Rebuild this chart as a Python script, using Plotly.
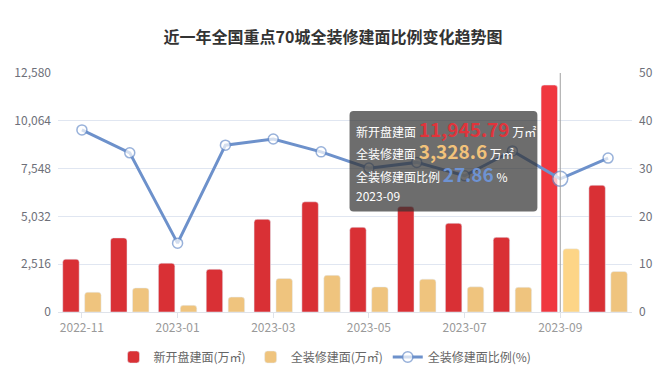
import plotly.graph_objects as go

months = ["2022-11", "2022-12", "2023-01", "2023-02", "2023-03", "2023-04",
          "2023-05", "2023-06", "2023-07", "2023-08", "2023-09", "2023-10"]
new_open = [2780, 3900, 2570, 2250, 4880, 5800, 4460, 5550, 4670, 3930, 11945.79, 6670]
full_dec = [1040, 1265, 350, 785, 1765, 1930, 1320, 1730, 1325, 1300, 3328.6, 2130]
ratio = [38.1, 33.3, 14.4, 34.9, 36.2, 33.5, 30.1, 31.3, 28.5, 33.7, 27.86, 32.2]
left_ticks = [0, 2516, 5032, 7548, 10064, 12580]
right_ticks = [0, 10, 20, 30, 40, 50]
x_ticks = months[::2]
hi = 10  # highlighted index (2023-09)

W, H = 666, 379
L, R, T, B = 57.5, 632, 72.8, 312.5


def px(x):
    return (x - L) / (R - L)


def py(y):
    return (B - y) / (B - T)


red = ["#d93035"] * len(months)
red[hi] = "#f0373f"
yel = ["#efc47e"] * len(months)
yel[hi] = "#fdd587"
msize = [10] * len(months)
msize[hi] = 15

fig = go.Figure()
fig.add_trace(go.Bar(x=months, y=new_open, name="新开盘建面(万㎡)",
                     marker=dict(color=red, cornerradius=3),
                     hoverinfo="skip"))
fig.add_trace(go.Bar(x=months, y=full_dec, name="全装修建面(万㎡)",
                     marker=dict(color=yel, cornerradius=3),
                     hoverinfo="skip"))
fig.add_trace(go.Scatter(x=months, y=ratio, name="全装修建面比例(%)", yaxis="y2",
                         mode="lines+markers",
                         line=dict(color="#6d91cb", width=3),
                         marker=dict(size=msize, color="white",
                                     line=dict(color="#6d91cb", width=1.5)),
                         hoverinfo="skip"))

font = "Noto Sans CJK SC, Noto Sans, sans-serif"
fig.update_layout(
    width=W, height=H,
    margin=dict(l=L, r=W - R, t=T, b=H - B, autoexpand=False),
    paper_bgcolor="white", plot_bgcolor="white",
    font=dict(family=font, size=12, color="#6e7079"),
    title=dict(text="<b>近一年全国重点70城全装修建面比例变化趋势图</b>",
               x=0.5, xanchor="center", y=1 - 37 / H, yanchor="middle",
               font=dict(size=16, color="#333333", family=font)),
    barmode="group", bargap=0.083, bargroupgap=0.25,
    showlegend=True,
    legend=dict(orientation="h", xref="container", x=325 / W, xanchor="center",
                yref="container", y=1 - 357 / H, yanchor="middle",
                font=dict(size=12, color="#666666"), itemwidth=30,
                traceorder="normal"),
    xaxis=dict(type="category", range=[-0.5, 11.5], tickvals=x_ticks,
               ticks="outside", ticklen=5, tickcolor="#dfe3ea",
               showline=True, linecolor="#dfe3ea", linewidth=1,
               showgrid=False, tickfont=dict(size=12, color="#999999"),
               zeroline=False, automargin=False),
    yaxis=dict(range=[0, 12580], tickvals=left_ticks, tickformat=",",
               showgrid=True, gridcolor="#e0e6f1", zeroline=False,
               tickfont=dict(size=12, color="#6e7079"), ticks="", showline=False,
               automargin=False, ticklabelstandoff=6),
    yaxis2=dict(range=[0, 50], tickvals=right_ticks, overlaying="y", side="right",
                showgrid=False, zeroline=False, automargin=False,
                ticklabelstandoff=6,
                tickfont=dict(size=12, color="#6e7079")),
    hovermode=False,
)

# axis pointer line
fig.add_shape(type="line", xref="x", yref="paper", x0=months[hi], x1=months[hi],
              y0=0, y1=1, line=dict(color="#a0a0a0", width=1), layer="above")

# tooltip box (rounded rectangle)
x0, x1, y0, y1, r = px(349.3), px(537.3), py(111), py(211.7), 4
rx = r / (R - L)
ry = r / (B - T)
path = (f"M {x0+rx},{y0} L {x1-rx},{y0} Q {x1},{y0} {x1},{y0-ry} "
        f"L {x1},{y1+ry} Q {x1},{y1} {x1-rx},{y1} L {x0+rx},{y1} "
        f"Q {x0},{y1} {x0},{y1+ry} L {x0},{y0-ry} Q {x0},{y0} {x0+rx},{y0} Z")
fig.add_shape(type="path", xref="paper", yref="paper", path=path,
              fillcolor="rgba(50,50,50,0.71)", line=dict(width=0), layer="above")

lines = [
    (128.3, "新开盘建面 <span style='font-size:19px;color:#e0343b'><b>11,945.79</b></span> 万㎡"),
    (150.7, "全装修建面 <span style='font-size:19px;color:#f2c27a'><b>3,328.6</b></span> 万㎡"),
    (173.3, "全装修建面比例 <span style='font-size:19px;color:#6e93d3'><b>27.86</b></span> %"),
    (195.7, "2023-09"),
]
for yy, txt in lines:
    fig.add_annotation(xref="paper", yref="paper", x=px(353.5), y=py(yy),
                       xanchor="left", yanchor="middle", text=txt, showarrow=False,
                       font=dict(size=12, color="white", family=font))

fig.write_html("out.html", config={"displayModeBar": False},
               post_script="document.body.style.margin='0';document.body.style.padding='0';")
